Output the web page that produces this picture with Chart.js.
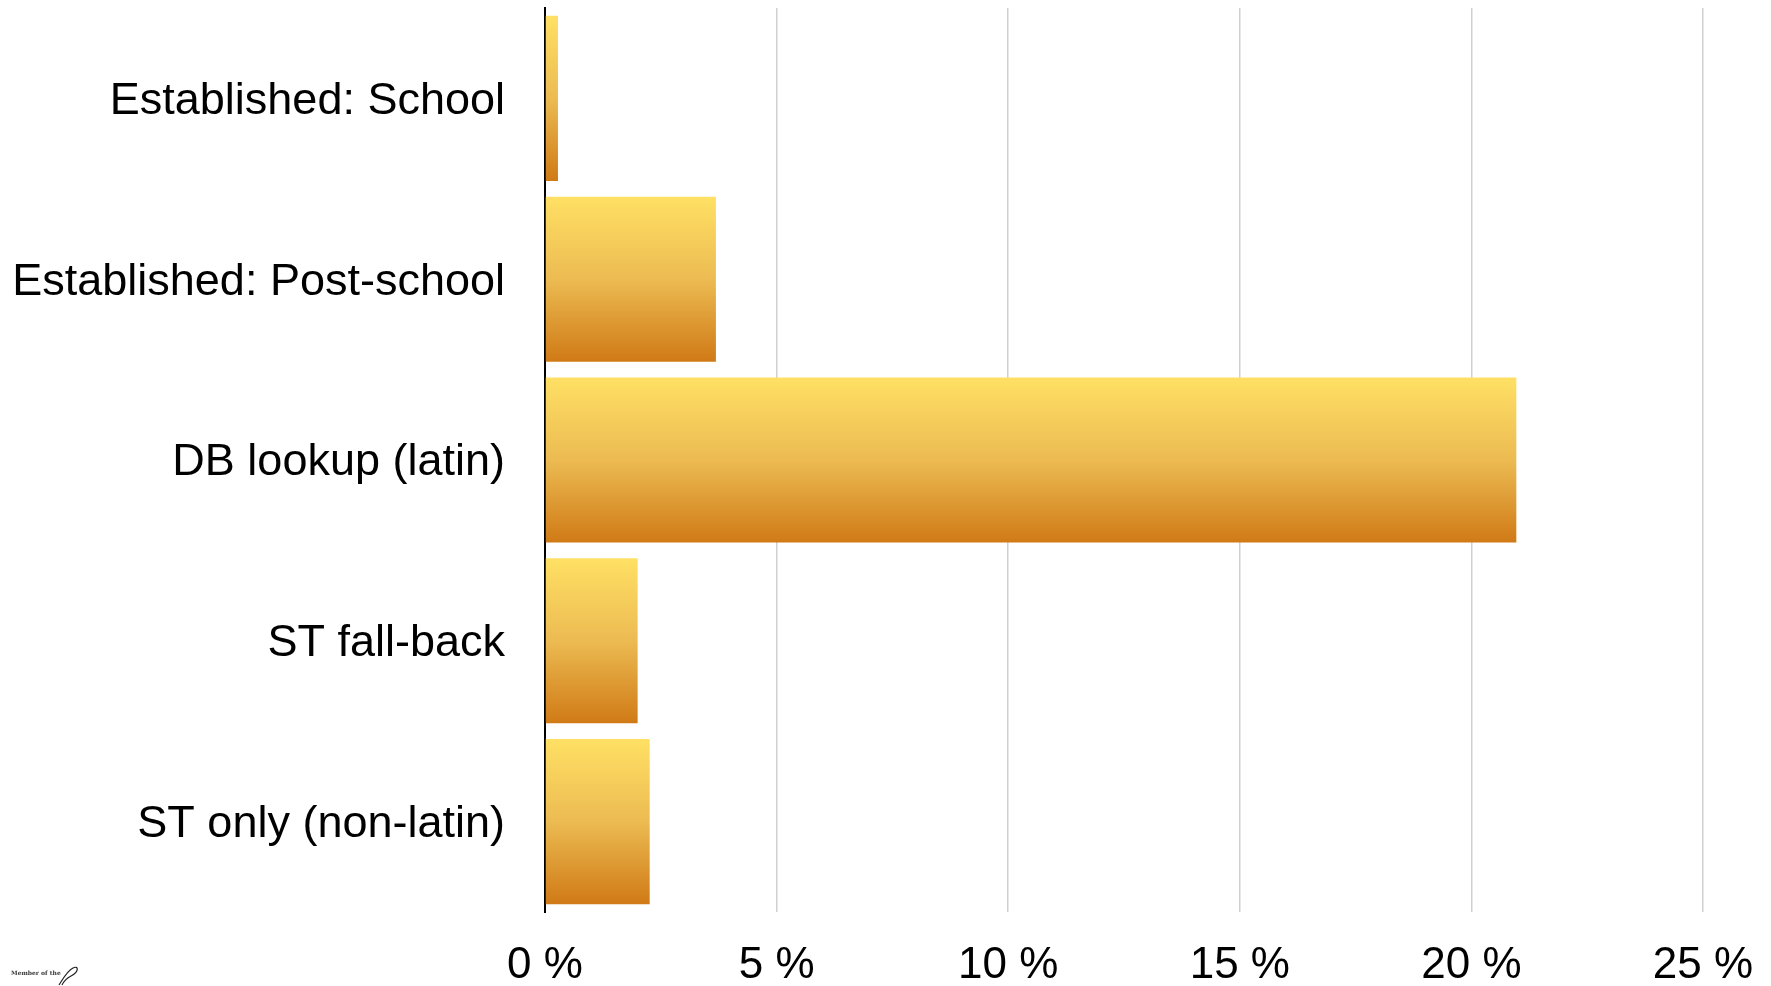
<!DOCTYPE html>
<html>
<head>
<meta charset="utf-8">
<script src="https://cdn.jsdelivr.net/npm/chart.js@4/dist/chart.umd.min.js"></script>
<style>
  html, body { margin: 0; padding: 0; background: #fff; }
  #wrap { position: relative; width: 1771px; height: 986px; }
  #logo { position: absolute; left: 11px; top: 969px; font: bold 6px "DejaVu Serif", serif; color: #333; white-space: nowrap; }
  #logo svg { position: absolute; left: 44px; top: -6px; }
</style>
</head>
<body>
<div id="wrap">
  <canvas id="myChart" width="1771" height="986"></canvas>
  <div id="logo">Member of the
    <svg width="30" height="24" viewBox="0 0 30 24"><path d="M4 22 C8 16, 12 8, 18 5 C24 2, 24 9, 16 13 C12 15, 9 18, 7 22" fill="none" stroke="#222" stroke-width="1.2"/></svg>
  </div>
</div>
<script>
const categories = ['Established: School', 'Established: Post-school', 'DB lookup (latin)', 'ST fall-back', 'ST only (non-latin)'];
const shares = [0.28, 3.69, 20.97, 2.0, 2.26];
const tickStep = 5;
const axisMax = 25;

const FONT = '"Liberation Sans", Arial, sans-serif';
const BAR_PCT = 0.913;

// 每根柱子单独一个竖向渐变
function barGradient(context) {
    const chart = context.chart;
    const area = chart.chartArea;
    const yScale = chart.scales.y;
    if (!area || !yScale) return '#e8b04a';
    const slot = (area.bottom - area.top) / categories.length;
    const cy = yScale.getPixelForValue(context.dataIndex);
    const half = slot * BAR_PCT / 2;
    const g = chart.ctx.createLinearGradient(0, cy - half, 0, cy + half);
    g.addColorStop(0, '#ffe064');
    g.addColorStop(0.5, '#ecbb52');
    g.addColorStop(1, '#d07a16');
    return g;
}

const ctx = document.getElementById('myChart').getContext('2d');
new Chart(ctx, {
    type: 'bar',
    data: {
        labels: categories,
        datasets: [{
            data: shares,
            backgroundColor: barGradient,
            borderWidth: 0,
            barPercentage: BAR_PCT,
            categoryPercentage: 1
        }]
    },
    options: {
        indexAxis: 'y',
        responsive: false,
        animation: false,
        layout: { padding: { top: 8, right: 68, bottom: 0, left: 0 } },
        plugins: {
            legend: { display: false },
            tooltip: { enabled: false }
        },
        scales: {
            x: {
                min: 0,
                max: axisMax,
                grid: { color: '#d0d0d0', lineWidth: 1.5, drawTicks: false },
                border: { display: false },
                ticks: {
                    stepSize: tickStep,
                    color: '#000',
                    padding: 32,
                    font: { family: FONT, size: 44, lineHeight: 1.0 },
                    maxRotation: 0,
                    callback: v => v + ' %'
                },
                afterFit: s => {
                    s.height = 74;
                    s.paddingLeft = 0;
                    s.paddingRight = 0;
                }
            },
            y: {
                grid: { display: false, drawTicks: false },
                border: { display: true, color: '#000', width: 2 },
                ticks: {
                    color: '#000',
                    padding: 40,
                    labelOffset: 3,
                    font: { family: FONT, size: 45 }
                },
                afterFit: s => {
                    s.width = 545;
                    s.paddingTop = 0;
                    s.paddingBottom = 0;
                }
            }
        }
    }
});
</script>
</body>
</html>
